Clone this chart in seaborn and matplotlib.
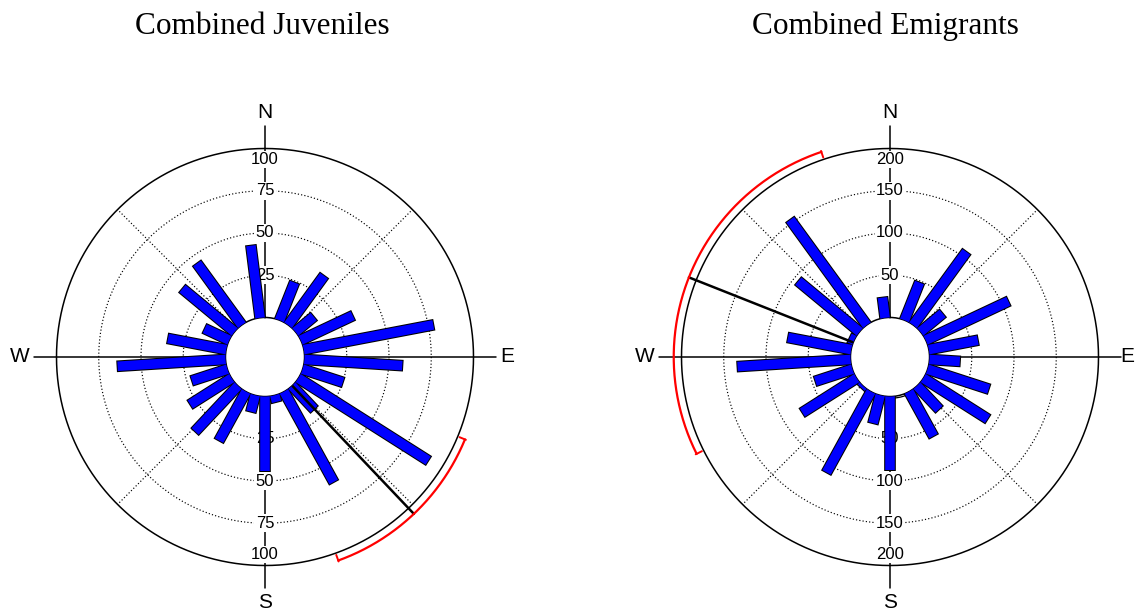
import numpy as np
import matplotlib
matplotlib.use("Agg")
import matplotlib.pyplot as plt
import seaborn as sns

# Direction classes: 25 sectors of 14.4 degrees, centred at 7.2, 21.6, ... 352.8
sector_width = 14.4
sector_centres = np.arange(25) * sector_width + sector_width / 2

# Counts per sector (clockwise from North)
juveniles = [0, 24, 36, 14, 34, 78, 58, 25, 91, 19, 61, 4, 44,
             10, 33, 37, 29, 22, 64, 35, 16, 40, 45, 0, 43]
emigrants = [0, 48, 107, 34, 108, 59, 36, 76, 90, 38, 60, 0, 87,
             34, 109, 3, 76, 46, 134, 76, 6, 94, 154, 0, 24]

# Radial scale labels
juv_ticks = [25, 50, 75, 100]
emi_ticks = [50, 100, 150, 200]

# Mean direction and its 95% confidence interval (degrees)
juv_mean = 136.5
juv_ci = [112.4, 160.2]
emi_mean = 291.6
emi_ci = [243.4, 341.5]

titles = ["Combined Juveniles", "Combined Emigrants"]
compass = ["N", "E", "S", "W"]
compass_deg = [0, 90, 180, 270]

sns.set_theme(style="white")
plt.rcParams["text.color"] = "black"

BAR_BLUE = "#0000FF"
SANS = "Liberation Sans"
SERIF = "Liberation Serif"


def rose(ax, counts, ticks, mean_dir, ci, east_r):
    top = ticks[-1]
    u = top / 100.0                      # data units per 1/100 of the outer ring
    ax.set_theta_zero_location("N")
    ax.set_theta_direction(-1)
    ax.set_ylim(0, 110 * u)
    ax.set_rorigin(-23.4 * u)            # leaves the central hole
    ax.grid(False)
    ax.set_xticks([])
    ax.set_yticks([])
    ax.spines["polar"].set_visible(False)
    ax.spines["inner"].set_color("black")
    ax.spines["inner"].set_linewidth(1.1)
    ax.set_facecolor("white")

    full = np.linspace(0, 2 * np.pi, 721)

    # outer ring
    ax.plot(full, np.full_like(full, top), color="black", lw=1.1, zorder=1.5)
    # dotted rings and diagonals
    for t in ticks[:-1]:
        ax.plot(full, np.full_like(full, t), color="black", lw=0.85,
                ls=(0, (1, 1.8)), zorder=1)
    for a in (45, 135, 225, 315):
        ax.plot([np.radians(a)] * 2, [0, top], color="black", lw=0.85,
                ls=(0, (1, 1.8)), zorder=1)
    # compass axes
    for a, lab in zip(compass_deg, compass):
        ax.plot([np.radians(a)] * 2, [0, 113.3 * u], color="black", lw=1.1,
                zorder=1.2, clip_on=False)
        r_lab = east_r * u if lab == "E" else 121.6 * u
        ax.text(np.radians(a), r_lab, lab, ha="center", va="center",
                fontsize=15, family=SANS, color="black")

    # radial scale labels along the N-S axis
    for t in ticks:
        r = 93.5 * u if t == top else t
        for a in (0, 180):
            ax.text(np.radians(a), r, str(t), ha="center", va="center",
                    fontsize=12, family=SANS, color="black", zorder=2,
                    bbox=dict(boxstyle="square,pad=0.08", fc="white", ec="none"))

    # shadow edge of the central hole
    sh = np.radians(np.linspace(45, 225, 181))
    ax.plot(sh, 1.3 * u * np.cos(sh - np.radians(135)), color="black",
            lw=0.9, zorder=2.5)

    # sector bars: constant-width bars with a thin black outline
    th = np.radians(sector_centres)
    for t, c in zip(th, counts):
        if c <= 0:
            continue
        ax.plot([t, t], [-3 * u, c + 0.6 * u], color="black", lw=8.4,
                solid_capstyle="butt", zorder=3)
        ax.plot([t, t], [-3 * u, c], color=BAR_BLUE, lw=6.9,
                solid_capstyle="butt", zorder=3.1)

    # mean vector and confidence arc
    r_arc = 104.6 * u
    ax.plot([np.radians(mean_dir)] * 2, [0, r_arc], color="black", lw=1.8,
            zorder=4)
    arc = np.radians(np.linspace(ci[0], ci[1], 200))
    ax.plot(arc, np.full_like(arc, r_arc), color="red", lw=1.6, zorder=4)
    for a in ci:
        ax.plot([np.radians(a)] * 2, [r_arc - 3.5 * u, r_arc + 0.6 * u],
                color="red", lw=1.4, zorder=4)


fig = plt.figure(figsize=(11.38, 6.13), dpi=100)
W, H = 1138.0, 613.0
R = 225.4
for cx, counts, ticks, mdir, ci, title, tx, er in [
        (265, juveniles, juv_ticks, juv_mean, juv_ci, titles[0], 262, 120.0),
        (890, emigrants, emi_ticks, emi_mean, emi_ci, titles[1], 885, 117.0)]:
    cy = H - 357
    ax = fig.add_axes([(cx - R) / W, (cy - R) / H, 2 * R / W, 2 * R / H],
                      projection="polar")
    rose(ax, counts, ticks, mdir, ci, er)
    fig.text(tx / W, 1 - 26 / H, title, ha="center", va="center",
             fontsize=22.5, family=SERIF, color="black")

fig.savefig("out.png", dpi=100, facecolor="white")
